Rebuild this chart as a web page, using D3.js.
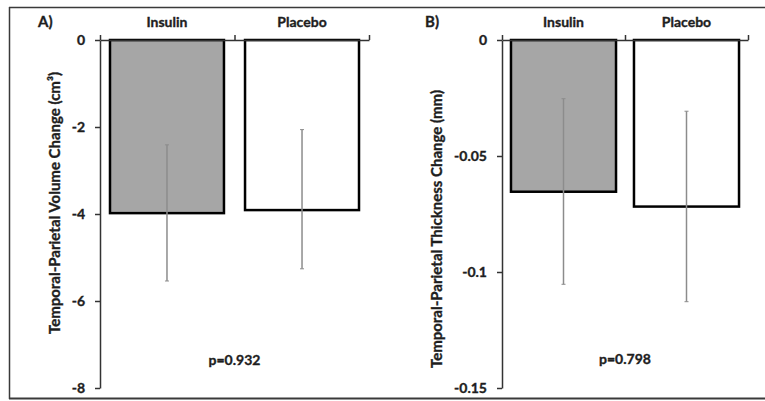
<!DOCTYPE html>
<html>
<head>
<meta charset="utf-8">
<script src="https://cdn.jsdelivr.net/npm/d3@7"></script>
<style>
  body { margin: 0; background: #fff; }
  svg { display: block; }
</style>
</head>
<body>
<svg id="chart" width="765" height="401"></svg>
<script>
// data
const categories = ['Insulin', 'Placebo']

const volumeMean = [-3.98, -3.91]
const volumeErrTop = [-2.41, -2.06]
const volumeErrBottom = [-5.54, -5.26]
const volumeTicks = [0, -2, -4, -6, -8]

const thicknessMean = [-0.0654, -0.0718]
const thicknessErrTop = [-0.0253, -0.0307]
const thicknessErrBottom = [-0.1053, -0.1128]
const thicknessTicks = [0, -0.05, -0.1, -0.15]

const panelTitles = ['A)', 'B)']
const yLabels = [
  'Temporal-Parietal Volume Change (cm³)',
  'Temporal-Parietal Thickness Change (mm)',
]
const pValues = ['p=0.932', 'p=0.798']

const font = 'Lato, Calibri, "Open Sans", sans-serif'
const ink = '#1e1e1e'
const svg = d3.select('#chart')

// plain hyphen minus like the original (d3.format would give U+2212)
const tickFormat = (d) => String(d)

// bold text helper, slightly thickened to look like the heavy original
function boldText(sel, size) {
  sel.attr('font-family', font)
    .attr('font-size', size)
    .attr('font-weight', 'bold')
    .attr('fill', ink)
    .attr('stroke', ink)
    .attr('stroke-width', 0.35)
}

// outer frame (top, left, bottom edges visible)
const frame = svg.append('g').attr('id', 'frame')
  .attr('stroke', '#3a3a3a').attr('fill', 'none')
frame.append('line').attr('x1', 9).attr('x2', 765).attr('y1', 7.5).attr('y2', 7.5).attr('stroke-width', 1.5)
frame.append('line').attr('x1', 9.5).attr('x2', 9.5).attr('y1', 7).attr('y2', 399).attr('stroke-width', 1.5)
frame.append('line').attr('x1', 9).attr('x2', 765).attr('y1', 398.5).attr('y2', 398.5).attr('stroke-width', 2)

const panels = [
  {
    id: 'panelA',
    left: 100, right: 369, top: 40, bottom: 388,
    domain: [0, -8], ticks: volumeTicks,
    mean: volumeMean, errTop: volumeErrTop, errBottom: volumeErrBottom,
    paddingInner: 0.156, paddingOuter: 0.074,
    title: panelTitles[0], titleX: 38, yLabel: yLabels[0], yLabelX: 55, yLabelY: 203,
    p: pValues[0], pY: 365,
  },
  {
    id: 'panelB',
    left: 502, right: 748, top: 40, bottom: 388,
    domain: [0, -0.15], ticks: thicknessTicks,
    mean: thicknessMean, errTop: thicknessErrTop, errBottom: thicknessErrBottom,
    paddingInner: 0.146, paddingOuter: 0.073,
    title: panelTitles[1], titleX: 425, yLabel: yLabels[1], yLabelX: 437, yLabelY: 229,
    p: pValues[1], pY: 364,
  },
]

panels.forEach((pn) => {
  const g = svg.append('g').attr('id', pn.id)

  const y = d3.scaleLinear().domain(pn.domain).range([pn.top, pn.bottom])
  const x = d3.scaleBand()
    .domain(categories)
    .range([pn.left, pn.right])
    .paddingInner(pn.paddingInner)
    .paddingOuter(pn.paddingOuter)
  // category boundaries for the top axis ticks
  const xEdge = d3.scaleLinear().domain([0, categories.length]).range([pn.left, pn.right])

  const rows = categories.map((c, i) => ({
    cat: c, mean: pn.mean[i], top: pn.errTop[i], bottom: pn.errBottom[i], i,
  }))

  // bars
  g.append('g').attr('class', 'bars')
    .selectAll('rect')
    .data(rows)
    .join('rect')
    .attr('x', (d) => x(d.cat))
    .attr('y', y(0))
    .attr('width', x.bandwidth())
    .attr('height', (d) => y(d.mean) - y(0))
    .attr('fill', (d) => (d.i === 0 ? '#a6a6a6' : '#ffffff'))
    .attr('stroke', '#000')
    .attr('stroke-width', 2.5)

  // error bars
  const err = g.append('g').attr('class', 'errors')
    .attr('stroke', '#8c8c8c').attr('stroke-width', 1.5)
    .selectAll('g')
    .data(rows)
    .join('g')
  err.append('line')
    .attr('x1', (d) => x(d.cat) + x.bandwidth() / 2)
    .attr('x2', (d) => x(d.cat) + x.bandwidth() / 2)
    .attr('y1', (d) => y(d.top))
    .attr('y2', (d) => y(d.bottom))
  err.selectAll('.cap')
    .data((d) => [d.top, d.bottom].map((v) => ({ v, cx: x(d.cat) + x.bandwidth() / 2 })))
    .join('line')
    .attr('class', 'cap')
    .attr('x1', (d) => d.cx - 2)
    .attr('x2', (d) => d.cx + 2)
    .attr('y1', (d) => y(d.v))
    .attr('y2', (d) => y(d.v))
    .attr('stroke-width', 1)

  // y axis
  const yAxis = g.append('g')
    .attr('transform', `translate(${pn.left},0)`)
    .call(d3.axisLeft(y).tickValues(pn.ticks).tickFormat(tickFormat).tickSize(5).tickPadding(10).tickSizeOuter(0))
  yAxis.select('.domain').attr('stroke', '#333').attr('stroke-width', 1.5)
  yAxis.selectAll('.tick line').attr('stroke', '#333').attr('stroke-width', 1.5)
  yAxis.selectAll('.tick text').call(boldText, 14)

  // top category axis: ticks at band edges, labels at band centres
  const edgeAxis = g.append('g')
    .attr('transform', `translate(0,${y(0)})`)
    .call(d3.axisTop(xEdge).tickValues(d3.range(categories.length + 1)).tickFormat('').tickSize(5).tickSizeOuter(0))
  edgeAxis.select('.domain').attr('stroke', '#333').attr('stroke-width', 1.5)
  edgeAxis.selectAll('.tick line').attr('stroke', '#333').attr('stroke-width', 1.5)

  const catAxis = g.append('g')
    .attr('transform', `translate(0,${y(0)})`)
    .call(d3.axisTop(x).tickSize(0).tickPadding(13))
  catAxis.select('.domain').remove()
  catAxis.selectAll('.tick text').call(boldText, 14)

  // panel title
  g.append('text')
    .attr('x', pn.titleX).attr('y', 27)
    .call(boldText, 15)
    .text(pn.title)

  // y axis label
  g.append('text')
    .attr('transform', `translate(${pn.yLabelX + 5},${pn.yLabelY}) rotate(-90)`)
    .attr('text-anchor', 'middle')
    .call(boldText, 15)
    .text(pn.yLabel)

  // p value
  g.append('text')
    .attr('x', xEdge(1)).attr('y', pn.pY)
    .attr('text-anchor', 'middle')
    .call(boldText, 14)
    .text(pn.p)
})
</script>
</body>
</html>
